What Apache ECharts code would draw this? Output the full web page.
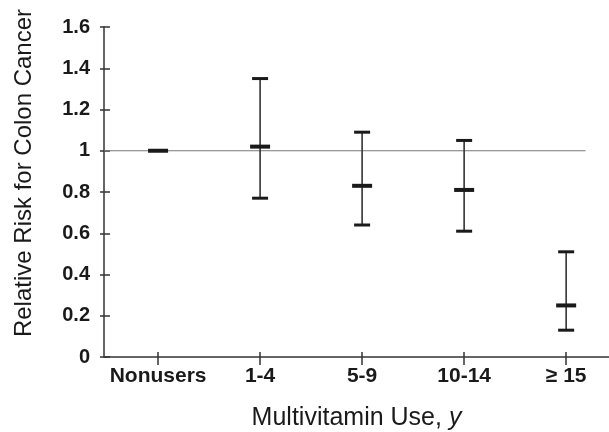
<!DOCTYPE html>
<html>
<head>
<meta charset="utf-8">
<script src="https://cdn.jsdelivr.net/npm/echarts@6/dist/echarts.min.js"></script>
<style>
html,body{margin:0;padding:0;background:#fff;}
#chart{width:609px;height:432px;}
</style>
</head>
<body>
<div id="chart"></div>
<script>
const categories = ['Nonusers', '1-4', '5-9', '10-14', '\u2265 15'];
const relativeRisk = [1.00, 1.02, 0.83, 0.81, 0.25];
const lowerCI = [null, 0.77, 0.64, 0.61, 0.13];
const upperCI = [null, 1.35, 1.09, 1.05, 0.51];
const yTicks = [0, 0.2, 0.4, 0.6, 0.8, 1, 1.2, 1.4, 1.6];
const referenceValue = 1;
const xRange = [-0.53, 4.42];
const referenceSpan = [-0.53, 4.19];

const FONT = '"Liberation Sans", Arial, Helvetica, sans-serif';
const INK = '#1a1a1a';

const chart = echarts.init(document.getElementById('chart'), null, {renderer: 'canvas'});

const catPositions = categories.map((c, i) => i);
const errData = categories.map((c, i) => [i, relativeRisk[i],
  lowerCI[i] == null ? '-' : lowerCI[i], upperCI[i] == null ? '-' : upperCI[i]]);

function renderErr(params, api) {
  const i = api.value(0);
  const est = api.value(1);
  const lo = api.value(2);
  const hi = api.value(3);
  const p = api.coord([i, est]);
  const children = [];
  if (!isNaN(lo) && !isNaN(hi)) {
    const t = api.coord([i, hi]);
    const b = api.coord([i, lo]);
    children.push({type: 'line', shape: {x1: t[0], y1: t[1], x2: b[0], y2: b[1]},
      style: {stroke: '#333', lineWidth: 1.6}});
    children.push({type: 'line', shape: {x1: t[0] - 8, y1: t[1], x2: t[0] + 8, y2: t[1]},
      style: {stroke: INK, lineWidth: 3}});
    children.push({type: 'line', shape: {x1: b[0] - 8, y1: b[1], x2: b[0] + 8, y2: b[1]},
      style: {stroke: INK, lineWidth: 3}});
  }
  children.push({type: 'line', shape: {x1: p[0] - 10, y1: p[1], x2: p[0] + 10, y2: p[1]},
    style: {stroke: INK, lineWidth: 4}});
  return {type: 'group', children};
}

function renderRef(params, api) {
  const a = api.coord([api.value(0), api.value(2)]);
  const b = api.coord([api.value(1), api.value(2)]);
  return {type: 'line', shape: {x1: a[0], y1: a[1], x2: b[0], y2: b[1]},
    style: {stroke: '#777', lineWidth: 1.2}};
}

const yMin = yTicks[0], yMax = yTicks[yTicks.length - 1], yInt = yTicks[1] - yTicks[0];

chart.setOption({
  animation: false,
  backgroundColor: '#fff',
  grid: {left: 104, right: 0, top: 27, bottom: 75, containLabel: false, outerBoundsMode: 'none'},
  xAxis: [{
    type: 'value',
    min: xRange[0], max: xRange[1],
    position: 'bottom',
    name: 'Multivitamin Use, {i|y}',
    nameLocation: 'middle',
    nameGap: 49,
    nameTextStyle: {fontFamily: FONT, fontSize: 25, color: INK,
      rich: {i: {fontFamily: FONT, fontSize: 25, fontStyle: 'italic', color: INK}}},
    axisLine: {show: true, onZero: false, lineStyle: {color: '#333', width: 1.5}},
    axisTick: {show: true, customValues: catPositions, length: 8, lineStyle: {color: '#333', width: 1.5}},
    axisLabel: {customValues: catPositions, margin: 9, fontFamily: FONT, fontSize: 21, fontWeight: 'bold', color: INK,
      formatter: v => categories[Math.round(v)] || ''},
    splitLine: {show: false}
  }, {
    type: 'value',
    min: xRange[0], max: xRange[1],
    position: 'bottom',
    axisLine: {show: false, onZero: false},
    axisTick: {show: true, inside: true, customValues: catPositions, length: 5, lineStyle: {color: '#333', width: 1.5}},
    axisLabel: {show: false},
    splitLine: {show: false}
  }],
  yAxis: [{
    type: 'value',
    min: yMin, max: yMax, interval: yInt,
    position: 'left',
    name: 'Relative Risk for Colon Cancer',
    nameLocation: 'middle',
    nameGap: 68,
    nameRotate: 90,
    nameTextStyle: {fontFamily: FONT, fontSize: 24, color: INK, padding: [0, 0, 0, 38]},
    axisLine: {show: true, onZero: false, lineStyle: {color: '#333', width: 1.5}},
    axisTick: {show: true, length: 4, lineStyle: {color: '#333', width: 1.5}},
    axisLabel: {margin: 14, fontFamily: FONT, fontSize: 20, fontWeight: 'bold', color: INK,
      formatter: v => String(Math.round(v * 10) / 10)},
    splitLine: {show: false}
  }, {
    type: 'value',
    min: yMin, max: yMax, interval: yInt,
    position: 'left',
    axisLine: {show: false, onZero: false},
    axisTick: {show: true, inside: true, length: 6, lineStyle: {color: '#333', width: 1.5}},
    axisLabel: {show: false},
    splitLine: {show: false}
  }],
  series: [{
    type: 'custom',
    renderItem: renderRef,
    data: [[referenceSpan[0], referenceSpan[1], referenceValue]],
    encode: {x: [0, 1], y: 2},
    clip: false,
    silent: true,
    z: 1
  }, {
    type: 'custom',
    renderItem: renderErr,
    data: errData,
    encode: {x: 0, y: [1, 2, 3]},
    z: 3
  }]
});
</script>
</body>
</html>
